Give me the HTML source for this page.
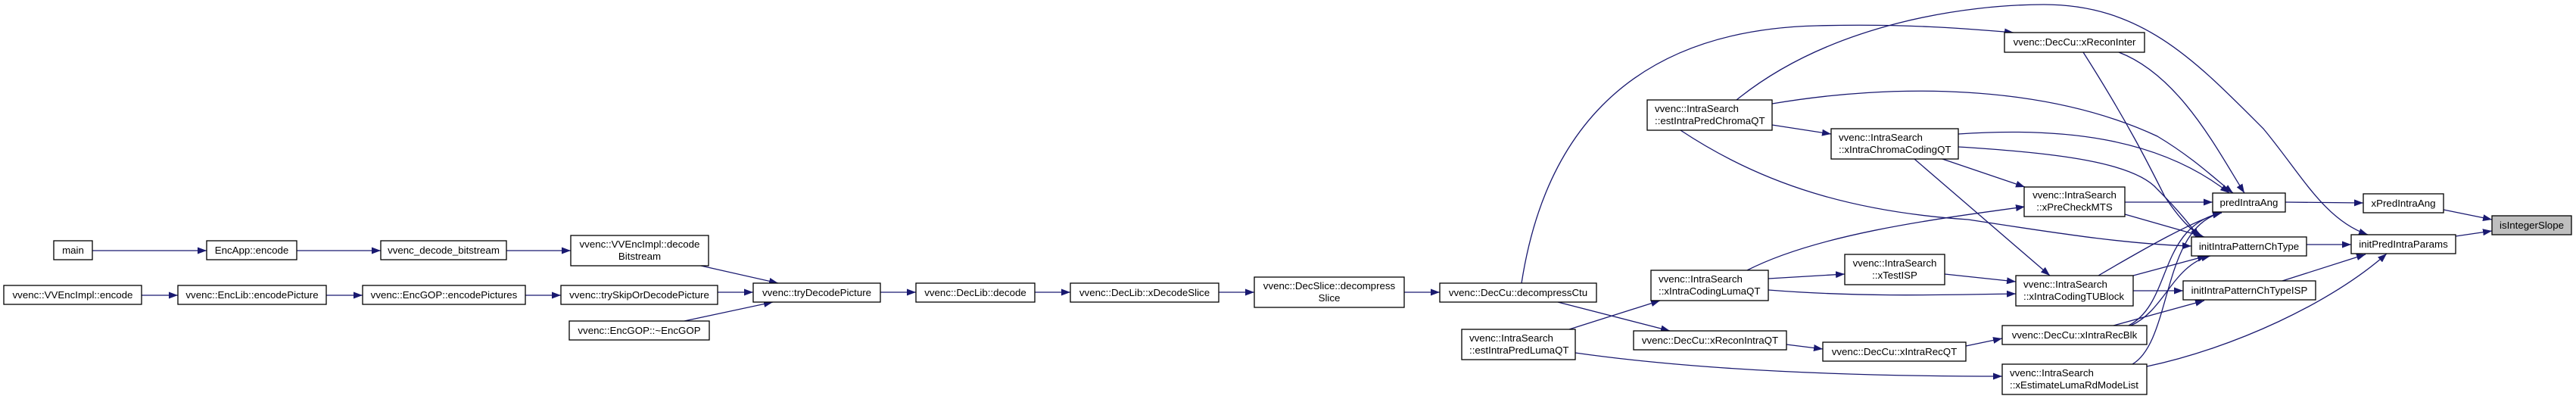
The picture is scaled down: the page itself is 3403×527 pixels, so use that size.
<!DOCTYPE html>
<html><head><meta charset="utf-8">
<style>
html,body{margin:0;padding:0;background:#fff;}
svg{display:block;}
text{font-family:"Liberation Sans",Arial,sans-serif;font-size:13.3px;fill:#000;}
.n{fill:#fff;stroke:#000;stroke-width:1.3;}
.g{fill:#bfbfbf;stroke:#000;stroke-width:1.3;}
.e{fill:none;stroke:#191970;stroke-width:1.3;marker-end:url(#a);}
</style></head><body>
<svg width="3403" height="527" viewBox="0 0 3403 527" xmlns="http://www.w3.org/2000/svg">
<defs><marker id="a" markerUnits="userSpaceOnUse" markerWidth="12" markerHeight="9" refX="12" refY="4.5" orient="auto"><path d="M0,0 L12,4.5 L0,9 z" fill="#191970"/></marker></defs>
<g>
<path class="e" d="M122,331 L273,331"/>
<path class="e" d="M392,331 L503,331"/>
<path class="e" d="M669,331 L754,331"/>
<path class="e" d="M187,390 L235,390"/>
<path class="e" d="M431,390 L479,390"/>
<path class="e" d="M694,390 L741,390"/>
<path class="e" d="M926,351 L1028,374"/>
<path class="e" d="M948,386 L995,386"/>
<path class="e" d="M904,424 L1021,399"/>
<path class="e" d="M1163,386 L1210,386"/>
<path class="e" d="M1367,386 L1414,386"/>
<path class="e" d="M1610,386 L1657,386"/>
<path class="e" d="M1855,386 L1902,386"/>
<path class="e" d="M2010,374 C2040,180 2150,40 2400,34 C2520,31 2600,38 2660,43"/>
<path class="e" d="M2058,399 L2206,437"/>
<path class="e" d="M2073,435 L2193,397"/>
<path class="e" d="M2081,466 C2250,490 2450,497 2645,497"/>
<path class="e" d="M2341,165 L2419,177"/>
<path class="e" d="M2294,132 C2420,30 2600,6 2700,6 C2830,6 2900,80 2990,170 C3040,230 3070,290 3128,310"/>
<path class="e" d="M2341,137 C2500,110 2700,110 2850,180 C2900,210 2930,240 2950,255"/>
<path class="e" d="M2220,172 C2330,245 2450,280 2600,290 C2700,305 2800,322 2895,325"/>
<path class="e" d="M2587,177 C2720,168 2850,180 2945,255"/>
<path class="e" d="M2587,194 C2720,202 2820,215 2850,250 C2880,280 2895,300 2905,313"/>
<path class="e" d="M2566,210 L2675,247"/>
<path class="e" d="M2529,210 L2708,364"/>
<path class="e" d="M2799,69 C2880,100 2930,200 2965,255"/>
<path class="e" d="M2752,69 C2810,160 2840,220 2860,260 C2880,290 2895,305 2910,313"/>
<path class="e" d="M2807,267 L2923,267"/>
<path class="e" d="M2807,283 L2912,313"/>
<path class="e" d="M2308,357 C2400,310 2550,290 2675,273"/>
<path class="e" d="M2336,368 L2437,362"/>
<path class="e" d="M2336,383 C2450,392 2550,390 2663,388"/>
<path class="e" d="M2569,362 L2663,372"/>
<path class="e" d="M2772,364 C2830,330 2900,290 2935,281"/>
<path class="e" d="M2818,364 L2915,338"/>
<path class="e" d="M2818,384 L2884,384"/>
<path class="e" d="M2812,430 C2870,400 2850,300 2935,281"/>
<path class="e" d="M2815,430 C2860,410 2870,350 2920,338"/>
<path class="e" d="M2792,430 L2912,397"/>
<path class="e" d="M2817,481 C2870,450 2855,300 2935,281"/>
<path class="e" d="M2836,484 C2950,460 3080,400 3153,335"/>
<path class="e" d="M3015,371 L3125,336"/>
<path class="e" d="M2360,455 L2408,461"/>
<path class="e" d="M2597,457 L2645,447"/>
<path class="e" d="M3019,267 L3122,268"/>
<path class="e" d="M3047,323 L3106,323"/>
<path class="e" d="M3228,277 L3292,290"/>
<path class="e" d="M3244,312 L3292,305"/>
</g>
<g>
<rect class="n" x="71" y="318" width="51" height="25"/><text x="96.5" y="335" text-anchor="middle">main</text>
<rect class="n" x="273" y="318" width="119" height="25"/><text x="332.5" y="335" text-anchor="middle">EncApp::encode</text>
<rect class="n" x="503" y="318" width="166" height="25"/><text x="586" y="335" text-anchor="middle">vvenc_decode_bitstream</text>
<rect class="n" x="754" y="311" width="182" height="40"/><text x="845" y="327" text-anchor="middle">vvenc::VVEncImpl::decode</text><text x="845" y="343" text-anchor="middle">Bitstream</text>
<rect class="n" x="5" y="377" width="182" height="25"/><text x="96" y="394" text-anchor="middle">vvenc::VVEncImpl::encode</text>
<rect class="n" x="235" y="377" width="196" height="25"/><text x="333" y="394" text-anchor="middle">vvenc::EncLib::encodePicture</text>
<rect class="n" x="479" y="377" width="215" height="25"/><text x="586.5" y="394" text-anchor="middle">vvenc::EncGOP::encodePictures</text>
<rect class="n" x="741" y="377" width="207" height="25"/><text x="844.5" y="394" text-anchor="middle">vvenc::trySkipOrDecodePicture</text>
<rect class="n" x="752" y="424" width="185" height="25"/><text x="844.5" y="441" text-anchor="middle">vvenc::EncGOP::~EncGOP</text>
<rect class="n" x="995" y="374" width="168" height="25"/><text x="1079" y="391" text-anchor="middle">vvenc::tryDecodePicture</text>
<rect class="n" x="1210" y="374" width="157" height="25"/><text x="1288.5" y="391" text-anchor="middle">vvenc::DecLib::decode</text>
<rect class="n" x="1414" y="374" width="196" height="25"/><text x="1512" y="391" text-anchor="middle">vvenc::DecLib::xDecodeSlice</text>
<rect class="n" x="1657" y="366" width="198" height="40"/><text x="1756" y="382" text-anchor="middle">vvenc::DecSlice::decompress</text><text x="1756" y="398" text-anchor="middle">Slice</text>
<rect class="n" x="1902" y="374" width="207" height="25"/><text x="2005.5" y="391" text-anchor="middle">vvenc::DecCu::decompressCtu</text>
<rect class="n" x="2176" y="132" width="165" height="40"/><text x="2186" y="148">vvenc::IntraSearch</text><text x="2186" y="164">::estIntraPredChromaQT</text>
<rect class="n" x="2419" y="170" width="168" height="40"/><text x="2429" y="186">vvenc::IntraSearch</text><text x="2429" y="202">::xIntraChromaCodingQT</text>
<rect class="n" x="2181" y="357" width="155" height="40"/><text x="2191" y="373">vvenc::IntraSearch</text><text x="2191" y="389">::xIntraCodingLumaQT</text>
<rect class="n" x="2437" y="336" width="132" height="40"/><text x="2503" y="352" text-anchor="middle">vvenc::IntraSearch</text><text x="2503" y="368" text-anchor="middle">::xTestISP</text>
<rect class="n" x="1931" y="435" width="150" height="40"/><text x="1941" y="451">vvenc::IntraSearch</text><text x="1941" y="467">::estIntraPredLumaQT</text>
<rect class="n" x="2158" y="437" width="202" height="25"/><text x="2259" y="454" text-anchor="middle">vvenc::DecCu::xReconIntraQT</text>
<rect class="n" x="2408" y="452" width="189" height="25"/><text x="2502.5" y="469" text-anchor="middle">vvenc::DecCu::xIntraRecQT</text>
<rect class="n" x="2648" y="43" width="185" height="26"/><text x="2740.5" y="60" text-anchor="middle">vvenc::DecCu::xReconInter</text>
<rect class="n" x="2674" y="247" width="133" height="39"/><text x="2740.5" y="262" text-anchor="middle">vvenc::IntraSearch</text><text x="2740.5" y="278" text-anchor="middle">::xPreCheckMTS</text>
<rect class="n" x="2663" y="364" width="155" height="40"/><text x="2673" y="380">vvenc::IntraSearch</text><text x="2673" y="396">::xIntraCodingTUBlock</text>
<rect class="n" x="2645" y="430" width="191" height="25"/><text x="2740.5" y="447" text-anchor="middle">vvenc::DecCu::xIntraRecBlk</text>
<rect class="n" x="2645" y="481" width="191" height="40"/><text x="2655" y="497">vvenc::IntraSearch</text><text x="2655" y="513">::xEstimateLumaRdModeList</text>
<rect class="n" x="2923" y="255" width="96" height="25"/><text x="2971" y="272" text-anchor="middle">predIntraAng</text>
<rect class="n" x="2895" y="313" width="152" height="25"/><text x="2971" y="330" text-anchor="middle">initIntraPatternChType</text>
<rect class="n" x="2884" y="371" width="175" height="25"/><text x="2971.5" y="388" text-anchor="middle">initIntraPatternChTypeISP</text>
<rect class="n" x="3122" y="256" width="106" height="25"/><text x="3175" y="273" text-anchor="middle">xPredIntraAng</text>
<rect class="n" x="3106" y="310" width="138" height="25"/><text x="3175" y="327" text-anchor="middle">initPredIntraParams</text>
<rect class="g" x="3292" y="285" width="105" height="25"/><text x="3344.5" y="302" text-anchor="middle">isIntegerSlope</text>
</g>
</svg>
</body></html>
